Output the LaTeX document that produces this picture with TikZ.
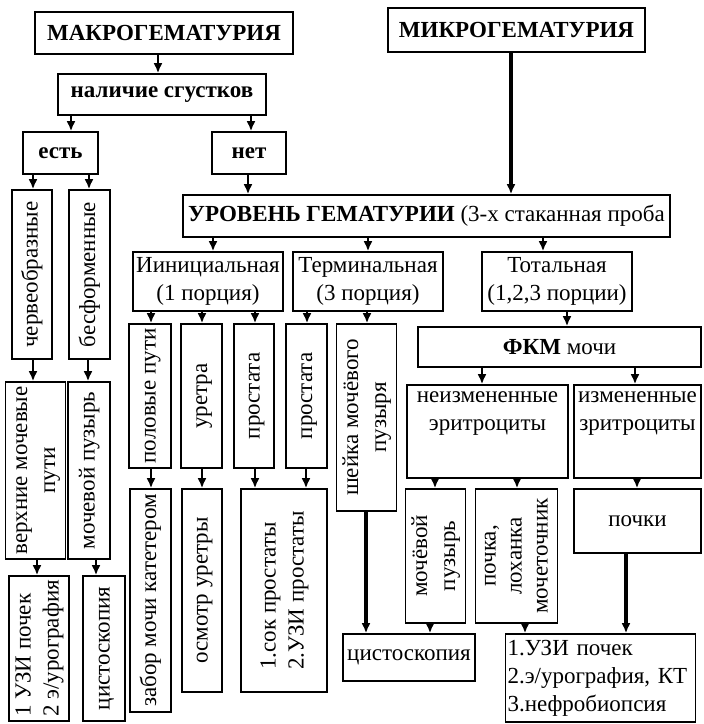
\documentclass[tikz,border=0pt]{standalone}
\usepackage{fontspec}
\setmainfont{Liberation Serif}
\usetikzlibrary{arrows.meta}
\newcommand{\vtext}[2][c]{\rotatebox{90}{\begin{tabular}{@{}#1@{}}#2\end{tabular}}}

\begin{document}
\begin{tikzpicture}[
  x=0.5pt, y=-0.5pt,
  >={Latex[length=5pt,width=4.5pt]},
  box/.style={draw, line width=0.8pt, inner sep=1pt, align=center,
              font=\fontsize{11.5}{14}\selectfont},
  head/.style={box, font=\fontsize{11.5}{14}\selectfont\bfseries},
  arr/.style={->, line width=1pt},
  thickarr/.style={->, line width=1.6pt}
]
\useasboundingbox (0,0) rectangle (703,724);

%% ── Top row (pixel coordinates, y down) ──
\node[head, minimum width=129pt, minimum height=21pt]   (makro)    at (164,33)    {МАКРОГЕМАТУРИЯ};
\node[head, minimum width=128.5pt, minimum height=22pt] (mikro)    at (516.5,30)  {МИКРОГЕМАТУРИЯ};
\node[head, minimum width=104pt, minimum height=20.5pt] (nalichie) at (162,94.5)  {наличие сгустков};
\node[head, minimum width=37.5pt, minimum height=21pt]  (est)      at (60.5,153)  {есть};
\node[head, minimum width=37pt, minimum height=21pt]    (net)      at (249,153)   {нет};

%% ── Left column: clots present ──
\node[box, minimum width=20pt, minimum height=84.5pt]   (cherv) at (32,274.5)   {\vtext{червеобразные}};
\node[box, minimum width=20.5pt, minimum height=84.5pt] (besf)  at (89.5,274.5) {\vtext{бесформенные}};
\node[box, minimum width=28.5pt, minimum height=88.5pt] (verkh) at (35.5,470.5) {\vtext{верхние мочевые\\пути}};
\node[box, minimum width=21pt, minimum height=88.5pt]   (puzL)  at (89,470.5)   {\vtext{мочевой пузырь}};
\node[box, minimum width=29pt, minimum height=72.5pt]   (uziL)  at (39,648.5)   {\vtext[l]{1 УЗИ почек\\2 э/урография}};
\node[box, minimum width=21pt, minimum height=72.5pt]   (cistL) at (104,648.5)  {\vtext{цистоскопия}};

%% ── Level of haematuria ──
\node[box, minimum width=243.5pt, minimum height=21pt] (uroven) at (426.5,216)
  {\textbf{УРОВЕНЬ ГЕМАТУРИИ} (3-х стаканная проба};
\node[box, minimum width=75pt, minimum height=29.5pt] (init)  at (208,281.5) {Иинициальная\\(1 порция)};
\node[box, minimum width=75pt, minimum height=29.5pt] (term)  at (368,281.5) {Терминальная\\(3 порция)};
\node[box, minimum width=75pt, minimum height=29.5pt] (total) at (557,281.5) {Тотальная\\(1,2,3 порции)};

%% ── Initial / terminal branches ──
\node[box, minimum width=21pt, minimum height=72pt]     (polov)  at (150,396)   {\vtext{половые пути}};
\node[box, minimum width=20.5pt, minimum height=72pt]   (uretra) at (201.5,396) {\vtext{уретра}};
\node[box, minimum width=20pt, minimum height=72pt]     (prostA) at (254,396)   {\vtext{простата}};
\node[box, minimum width=20.5pt, minimum height=72pt]   (prostB) at (306.5,396) {\vtext{простата}};
\node[box, minimum width=29.5pt, minimum height=93.5pt] (sheika) at (366.5,417.5) {\vtext{шейка мочёвого\\пузыря}};
\node[box, minimum width=20.5pt, minimum height=111.5pt] (zabor)  at (150.5,600.5) {\vtext{забор мочи катетером}};
\node[box, minimum width=20pt, minimum height=101.5pt]   (osmotr) at (202,590.5)   {\vtext{осмотр уретры}};
\node[box, minimum width=43pt, minimum height=101.5pt]   (sok)    at (284,590.5)   {\vtext[l]{1.сок простаты\\2.УЗИ простаты}};
\node[box, minimum width=66pt, minimum height=23.5pt]    (cistM)  at (409,657.5)   {цистоскопия};

%% ── Total branch ──
\node[box, minimum width=141.5pt, minimum height=20pt] (fkm) at (559.5,347) {\textbf{ФКМ} мочи};
\node[box, minimum width=80.5pt, minimum height=46.5pt,
      label={[anchor=north, align=center, font=\fontsize{11.5}{14}\selectfont]north:{неизмененные\\эритроциты}}]
      (neizm) at (487.5,431.5) {};
\node[box, minimum width=63.5pt, minimum height=46.5pt,
      label={[anchor=north, align=center, font=\fontsize{11.5}{14}\selectfont]north:{измененные\\зритроциты}}]
      (izm) at (637.5,431.5) {};
\node[box, minimum width=28.5pt, minimum height=67pt] (mochP)   at (435.5,556) {\vtext{мочёвой\\пузырь}};
\node[box, minimum width=40.5pt, minimum height=67pt, font=\fontsize{11.5}{13}\selectfont]
      (pochkaL) at (516.5,556) {\vtext{почка,\\лоханка\\мочеточник}};
\node[box, minimum width=63.5pt, minimum height=32pt] (pochki)  at (637.5,521) {почки};
\node[box, minimum height=44pt, text width=93pt, align=left] (uziR) at (600.5,678)
  {1.УЗИ почек\\2.э/урография, КТ\\3.нефробиопсия};

%% ── Arrows ──
\draw[arr] (makro.south -| 158,0)    -- (nalichie.north -| 158,0);
\draw[arr] (nalichie.south -| 71,0)  -- (est.north -| 71,0);
\draw[arr] (nalichie.south -| 251,0) -- (net.north -| 251,0);
\draw[arr] (est.south -| 33,0)       -- (cherv.north -| 33,0);
\draw[arr] (est.south -| 89,0)       -- (besf.north -| 89,0);
\draw[arr] (cherv.south -| 33,0)     -- (verkh.north -| 33,0);
\draw[arr] (besf.south -| 88,0)      -- (puzL.north -| 88,0);
\draw[arr] (verkh.south -| 37,0)     -- (uziL.north -| 37,0);
\draw[arr] (puzL.south -| 96,0)      -- (cistL.north -| 96,0);
\draw[arr] (net.south -| 248,0)      -- (uroven.north -| 248,0);
\draw[thickarr] (mikro.south -| 511,0) -- (uroven.north -| 511,0);

\draw[arr] (uroven.south -| 213,0) -- (init.north -| 213,0);
\draw[arr] (uroven.south -| 368,0) -- (term.north -| 368,0);
\draw[arr] (uroven.south -| 543,0) -- (total.north -| 543,0);
\draw[arr] (init.south -| 151,0)   -- (polov.north -| 151,0);
\draw[arr] (init.south -| 202,0)   -- (uretra.north -| 202,0);
\draw[arr] (init.south -| 255,0)   -- (prostA.north -| 255,0);
\draw[arr] (term.south -| 307,0)   -- (prostB.north -| 307,0);
\draw[arr] (term.south -| 367,0)   -- (sheika.north -| 367,0);
\draw[arr] (polov.south -| 151,0)  -- (zabor.north -| 151,0);
\draw[arr] (uretra.south -| 202,0) -- (osmotr.north -| 202,0);
\draw[arr] (prostA.south -| 255,0) -- (sok.north -| 255,0);
\draw[arr] (prostB.south -| 306,0) -- (sok.north -| 306,0);
\draw[thickarr] (sheika.south -| 366,0) -- (cistM.north -| 366,0);

\draw[arr] (total.south -| 567,0)  -- (fkm.north -| 567,0);
\draw[arr] (fkm.south -| 482,0)    -- (neizm.north -| 482,0);
\draw[arr] (fkm.south -| 635,0)    -- (izm.north -| 635,0);
\draw[arr] (neizm.south -| 435,0)  -- (mochP.north -| 435,0);
\draw[arr] (neizm.south -| 517,0)  -- (pochkaL.north -| 517,0);
\draw[arr] (izm.south -| 637,0)    -- (pochki.north -| 637,0);
\draw[arr] (mochP.south -| 430,0)  -- (cistM.north -| 430,0);
\draw[arr] (pochkaL.south -| 525,0) -- (uziR.north -| 525,0);
\draw[thickarr] (pochki.south -| 626,0) -- (uziR.north -| 626,0);

\end{tikzpicture}
\end{document}
